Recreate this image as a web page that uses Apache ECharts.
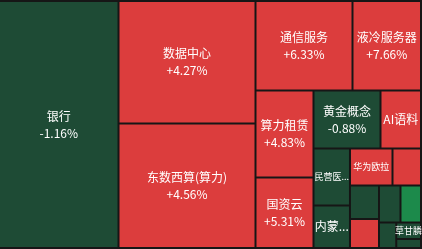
<!DOCTYPE html>
<html><head><meta charset="utf-8">
<script src="https://cdn.jsdelivr.net/npm/echarts@6/dist/echarts.min.js"></script>
<style>html,body{margin:0;padding:0;background:#161616;}#c{width:422px;height:249px;}</style>
</head><body><div id="c"></div>
<script>
// Sector names, block sizes (turnover weight) and daily change (%)
const names = ['银行','数据中心','东数西算(算力)','通信服务','液冷服务器','算力租赁','国资云','黄金概念','AI语料','民营医院','内蒙古','华为欧拉','其他一','其他二','其他三','其他四','其他五','其他六','草甘膦','其他七'];
const sizes = [29517,16783,17057,8682,6131,5046,4089,3886,2349,2081,1551,1573,1055,972,841,796,759,440,408,223];
const changes = [-1.16,4.27,4.56,6.33,7.66,4.83,5.31,-0.88,5.0,-0.6,-0.5,2.9,3.2,-0.4,1.8,-0.7,-3.4,-0.5,-0.9,-0.6];
// Truncated label text as displayed in the chart
const shownText = {'民营医院':'民营医...','内蒙古':'内蒙...'};

const hiddenLabels = new Set(['其他一','其他二','其他三','其他四','其他五','其他六','其他七']);
const smallFont = {'民营医院':9,'华为欧拉':9,'草甘膦':9};

function colorOf(p){ if(p>0) return '#dc3d3d'; if(p>-3) return '#1e4b35'; return '#1c8a4b'; }
function pctText(p){ return (p>0?'+':'')+p.toFixed(2)+'%'; }

const data = names.map((n,i)=>{
  const fs = smallFont[n] || 12;
  const detailed = sizes[i] >= 3000;
  const txt = shownText[n] || n;
  return {
    name:n, value:sizes[i],
    itemStyle:{color:colorOf(changes[i])},
    label:{
      show: !hiddenLabels.has(n),
      formatter: detailed ? txt + '\n' + pctText(changes[i]) : txt,
      fontSize: fs,
      lineHeight: fs < 12 ? 12 : 17,
      overflow: (shownText[n] || n === '草甘膦') ? 'none' : 'truncate'
    }
  };
});

const chart = echarts.init(document.getElementById('c'));
chart.setOption({
  backgroundColor:'#161616',
  animation:false,
  series:[{
    type:'treemap',
    left:-2, right:0, top:0, bottom:0,
    roam:false, nodeClick:false,
    breadcrumb:{show:false},
    sort:false,
    squareRatio:0.95,
    itemStyle:{borderColor:'#161616', borderWidth:1, gapWidth:0},
    label:{show:true, position:'inside', padding:0, color:'#ffffff',
      fontFamily:'"Noto Sans CJK SC", sans-serif', fontSize:12, lineHeight:17,
      overflow:'truncate', ellipsis:'...'},
    emphasis:{disabled:true},
    data:data
  }]
});
</script></body></html>
